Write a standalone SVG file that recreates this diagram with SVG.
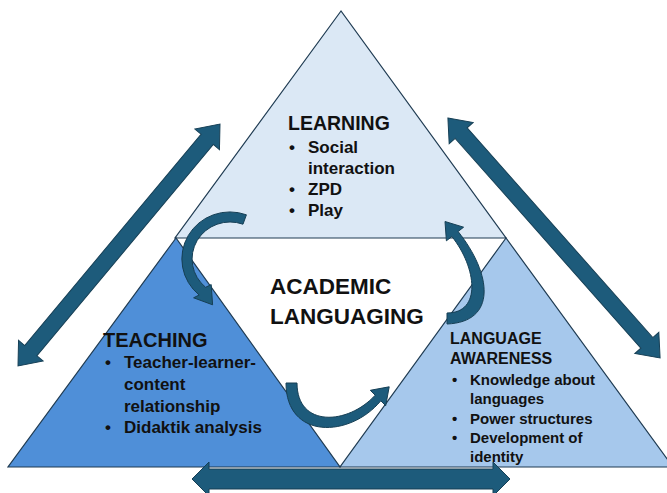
<svg xmlns="http://www.w3.org/2000/svg" width="667" height="493" viewBox="0 0 667 493">
<style>
  .tri { stroke: #1f3b52; stroke-width: 1.2; stroke-linejoin: miter; }
  .arr { fill: #1d5b7b; stroke: #163f55; stroke-width: 1; stroke-linejoin: miter; }
  .t { font-family: "Liberation Sans", Arial, sans-serif; font-weight: bold; fill: #111; }
  .h1 { font-size: 19.5px; }
  .h2 { font-size: 20px; }
  .h3 { font-size: 16px; }
  .c { font-size: 22.5px; }
  .b17 { font-size: 17px; }
  .b15 { font-size: 15px; }
</style>
<rect width="667" height="493" fill="#ffffff"/>

<g id="learning">
  <polygon class="tri" points="341,11 175,238 506,238" fill="#dbe8f5"/>
  <text class="t h1" x="288" y="130">LEARNING</text>
  <g class="t b17">
    <text x="289" y="153">•</text><text x="308" y="153">Social</text>
    <text x="308" y="174">interaction</text>
    <text x="289" y="195">•</text><text x="308" y="195">ZPD</text>
    <text x="289" y="216">•</text><text x="308" y="216">Play</text>
  </g>
</g>

<g id="teaching">
  <polygon class="tri" points="176,238 8,467 340,467" fill="#4f8fd8"/>
</g>

<g id="language-awareness">
  <polygon class="tri" points="506,238 340,467 673,467" fill="#a6c8ec"/>
</g>

<g id="academic-languaging">
  <text class="t c" x="270" y="294">ACADEMIC</text>
  <text class="t c" x="270" y="324">LANGUAGING</text>
</g>

<g id="connectors">
  <!-- curved arrows -->
  <path class="arr" d="M246.4,214.8 A48,47 0 0 0 199.1,295 L193.6,297.8 L212.6,304.8 L211.2,284.6 L205.6,287.3 A38,37 0 0 1 243,224.2 Z"/>
  <path class="arr" d="M286,383 C286,440 350,438 380.8,400.8 L385.7,405.7 L389.2,386.8 L370.3,390.3 L375.2,395.2 C348,425 297,428 297,383 Z"/>
  <path class="arr" d="M447,324 C497,322 492.2,274.4 458.1,231.5 L463.6,227.2 L445,221.5 L446.4,240.8 L451.9,236.5 C476.7,267.7 482,313 447,313 Z"/>
  <!-- double arrows -->
  <polygon class="arr" transform="translate(119,245) rotate(-50.15)" points="-157.6,0 -137.6,-16 -137.6,-8 137.6,-8 137.6,-16 157.6,0 137.6,16 137.6,8 -137.6,8 -137.6,16"/>
  <polygon class="arr" transform="translate(554,238) rotate(48.5)" points="-160.1,0 -140.1,-16 -140.1,-8 140.1,-8 140.1,-16 160.1,0 140.1,16 140.1,8 -140.1,8 -140.1,16"/>
  <polygon class="arr" transform="translate(351,479)" points="-159,0 -142,-17 -142,-10 142,-10 142,-17 159,0 142,17 142,10 -142,10 -142,17"/>
</g>

<g id="teaching-text">
  <text class="t h2" x="103" y="347">TEACHING</text>
  <g class="t b17">
    <text x="105" y="368">•</text><text x="124" y="368">Teacher-learner-</text>
    <text x="124" y="390">content</text>
    <text x="124" y="412">relationship</text>
    <text x="105" y="433">•</text><text x="124" y="433">Didaktik analysis</text>
  </g>
</g>

<g id="language-awareness-text">
  <text class="t h3" x="450" y="344">LANGUAGE</text>
  <text class="t h3" x="450" y="364">AWARENESS</text>
  <g class="t b15">
    <text x="452" y="385">•</text><text x="470" y="385">Knowledge about</text>
    <text x="470" y="404">languages</text>
    <text x="452" y="424">•</text><text x="470" y="424">Power structures</text>
    <text x="452" y="443">•</text><text x="470" y="443">Development of</text>
    <text x="470" y="462">identity</text>
  </g>
</g>
</svg>
